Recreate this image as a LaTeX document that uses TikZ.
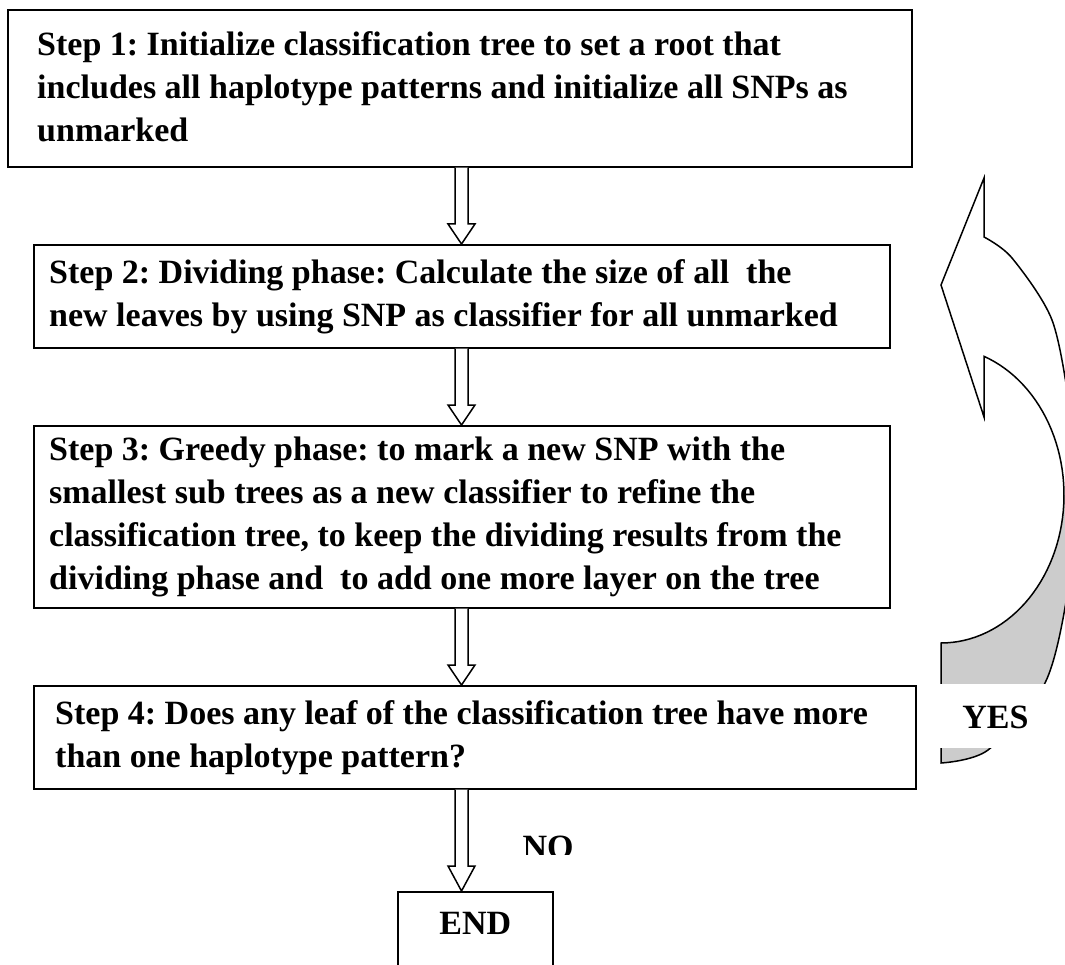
\documentclass[tikz,border=0pt]{standalone}
\usepackage{fontspec}
\setmainfont{Liberation Serif}
\usetikzlibrary{calc}
\frenchspacing
\newcommand\blkarrow[3]{%
  \draw[blk] ($(ax|-#1.south)+(-6.5,0)$) -- ($(ax|-#2.north)+(-6.5,-#3)$)
    -- ($(ax|-#2.north)+(-13.5,-#3)$) -- (ax|-#2.north)
    -- ($(ax|-#2.north)+(13.5,-#3)$) -- ($(ax|-#2.north)+(6.5,-#3)$)
    -- ($(ax|-#1.south)+(6.5,0)$);}
\begin{document}
\begin{tikzpicture}[x=1pt,y=-1pt,
  box/.style={draw, line width=1.6pt, rectangle, inner sep=0pt, anchor=north west},
  txt/.style={font=\fontsize{34}{43}\selectfont\bfseries, align=left, inner sep=0pt, anchor=west},
  lbl/.style={font=\fontsize{34}{43}\selectfont\bfseries, inner sep=0pt, anchor=base},
  blk/.style={draw, line width=1.5pt, fill=white, line join=miter},
  band/.style={line width=1.5pt, line join=miter}]
\useasboundingbox (0,0) rectangle (1065,965);
\coordinate (ax) at (461.5,0);

% boxes
\node[box, minimum width=904pt, minimum height=157pt] (s1) at (7,9) {};
\node[box, minimum width=856pt, minimum height=103pt] (s2) at (33,244) {};
\node[box, minimum width=856pt, minimum height=182pt] (s3) at (33,425) {};
\node[box, minimum width=882pt, minimum height=103pt] (s4) at (33,685) {};
\node[box, minimum width=155pt, minimum height=100pt] (ende) at (397,891) {};

\node[txt] (t1) at ($(s1.west)+(30,-2)$) {Step 1: Initialize classification tree to set a root that\\includes all haplotype patterns and initialize all SNPs as\\unmarked};
\node[txt] (t2) at ($(s2.west)+(16,0)$) {Step 2: Dividing phase: Calculate the size of all~ the\\new leaves by using SNP as classifier for all unmarked};
\node[txt] (t3) at ($(s3.west)+(16,0)$) {Step 3: Greedy phase: to mark a new SNP with the\\smallest sub trees as a new classifier to refine the\\classification tree, to keep the dividing results from the\\dividing phase and~ to add one more layer on the tree};
\node[txt] (t4) at ($(s4.west)+(22,0)$) {Step 4: Does any leaf of the classification tree have more\\than one haplotype pattern?};
\node[lbl] (endt) at ($(ende.north)+(0,43)$) {END};

% block arrows
\blkarrow{s1}{s2}{20}
\blkarrow{s2}{s3}{20}
\blkarrow{s3}{s4}{20}
\blkarrow{s4}{ende}{25}

% NO label (clipped text box)
\begin{scope}
  \clip (500,820) rectangle (620,854);
  \node[lbl] (no) at (548,858) {NO};
\end{scope}

% curved return arrow
\begin{scope}
  \clip (0,0) rectangle (1065,965);
  \begin{scope}
    \clip (941,495) rectangle (1100,800);
    \fill[black!20] (984,237) -- (984,178) -- (941,285) -- (984,417) -- (984,360)
      -- plot[domain=-69.5:90, samples=60] ({941+123*cos(\x)},{495+148*sin(\x)})
      -- plot[smooth] coordinates {(941,763) (988,750) (1045,683) (1068,590) (1077,490) (1070,410) (1052,320) (1012,258) (984,237)}
      -- cycle;
  \end{scope}
  \draw[band] (984,237) -- (984,178) -- (941,285) -- (984,417) -- (984,360)
      -- plot[domain=-69.5:90, samples=60] ({941+123*cos(\x)},{495+148*sin(\x)})
      -- plot[smooth] coordinates {(941,763) (988,750) (1045,683) (1068,590) (1077,490) (1070,410) (1052,320) (1012,258) (984,237)}
      -- cycle;
  \fill[white] (939,684) rectangle (1070,748);
\end{scope}
\node[lbl] (yes) at (995.5,728) {YES};
\end{tikzpicture}
\end{document}
